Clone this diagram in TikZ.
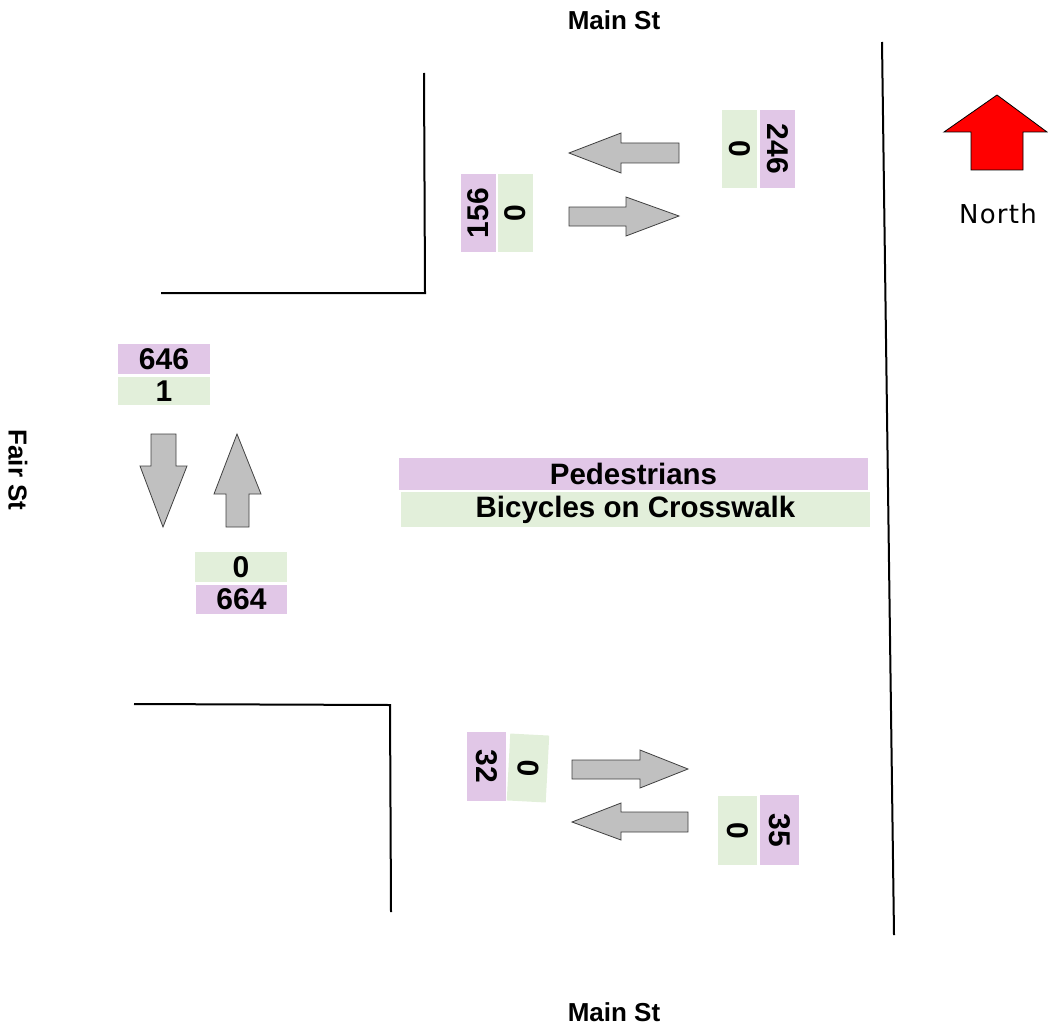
\documentclass[tikz,border=0pt]{standalone}
\usepackage{fontspec}
\setmainfont{Liberation Sans}
\newfontfamily\northfont[LetterSpace=5]{DejaVu Sans}
\definecolor{ped}{HTML}{E1C7E7}
\definecolor{bike}{HTML}{E2EFDA}
\definecolor{arrowgray}{HTML}{C0C0C0}
\definecolor{northred}{HTML}{FF0000}
\begin{document}
\begin{tikzpicture}[x=1pt,y=-1pt,
  road/.style={line width=2pt, black},
  flow/.style={fill=arrowgray, draw=black!75, line width=0.8pt, line join=miter},
  numfont/.style={font=\bfseries\fontsize{30}{30}\selectfont},
  pedbox/.style={fill=ped, inner sep=0pt, numfont},
  bikebox/.style={fill=bike, inner sep=0pt, numfont},
  vbox/.style={minimum width=78pt, minimum height=35pt},
  hbox/.style={minimum width=92pt, minimum height=29pt},
  sbox/.style={minimum width=69pt, minimum height=39pt},
  legend/.style={minimum width=469pt, minimum height=32pt, font=\bfseries\fontsize{29.5}{29.5}\selectfont},
  streetname/.style={font=\bfseries\fontsize{26}{26}\selectfont}
]
\useasboundingbox (0,0) rectangle (1048,1027);

% street names
\node[streetname] (mainN) at (614,20) {Main St};
\node[streetname] (mainS) at (614,1012) {Main St};
\node[streetname, rotate=-90] (fair) at (18,470) {Fair St};

% curbs
\draw[road] (161,293) -- (425,293) -- (424,73);
\draw[road] (134,704) -- (390,705) -- (391,912);
\draw[road] (882,42) -- (894,935);

% north arrow
\draw[fill=northred, draw=black, line width=0.8pt] (971,170) -- (1023,170) -- (1023,132) -- (1047,132) -- (997,95) -- (944,132) -- (971,132) -- cycle;
\node[font=\northfont\fontsize{26}{26}\selectfont] (north) at (998,214) {North};

% top (north leg) arrows
\draw[flow] (679,143) -- (621,143) -- (621,133) -- (569,153) -- (621,173) -- (621,163) -- (679,163) -- cycle;
\draw[flow] (569,207) -- (626,207) -- (626,197) -- (679,216) -- (626,236) -- (626,226) -- (569,226) -- cycle;

% top boxes
\node[bikebox, vbox, rotate=-90] (tRg) at (739.5,149) {0};
\node[pedbox, vbox, rotate=-90] (tRp) at (777.5,149) {246};
\node[pedbox, vbox, rotate=90] (tLp) at (478.5,213) {156};
\node[bikebox, vbox, rotate=90] (tLg) at (515.5,213) {0};

% west leg
\node[pedbox, hbox, minimum height=30pt] (wp1) at (164,359) {646};
\node[bikebox, hbox, minimum height=28pt] (wg1) at (164,391) {1};
\draw[flow] (151,434) -- (176,434) -- (176,466) -- (187,466) -- (163,527) -- (140,466) -- (151,466) -- cycle;
\draw[flow] (226,527) -- (249,527) -- (249,494) -- (261,494) -- (237,434) -- (214,494) -- (226,494) -- cycle;
\node[bikebox, hbox, minimum height=30pt] (wg2) at (241,567) {0};
\node[pedbox, hbox, minimum width=91pt] (wp2) at (241.5,599.5) {664};

% legend
\node[fill=ped, legend] (legP) at (633.5,474) {Pedestrians};
\node[fill=bike, legend] (legB) at (635.5,509.5) {Bicycles on Crosswalk};

% bottom (south leg)
\node[pedbox, sbox, rotate=-90] (bLp) at (486.5,766.5) {32};
\node[bikebox, sbox, minimum width=67pt, rotate=-93] (bLg) at (528,768) {0};
\draw[flow] (572,760) -- (640,760) -- (640,750) -- (688,769) -- (640,788) -- (640,779) -- (572,779) -- cycle;
\draw[flow] (688,812) -- (621,812) -- (621,803) -- (572,822) -- (621,840) -- (621,832) -- (688,832) -- cycle;
\node[bikebox, sbox, rotate=-90] (bRg) at (737.5,830.5) {0};
\node[pedbox, sbox, minimum width=70pt, rotate=-90] (bRp) at (779.5,830) {35};
\end{tikzpicture}
\end{document}
